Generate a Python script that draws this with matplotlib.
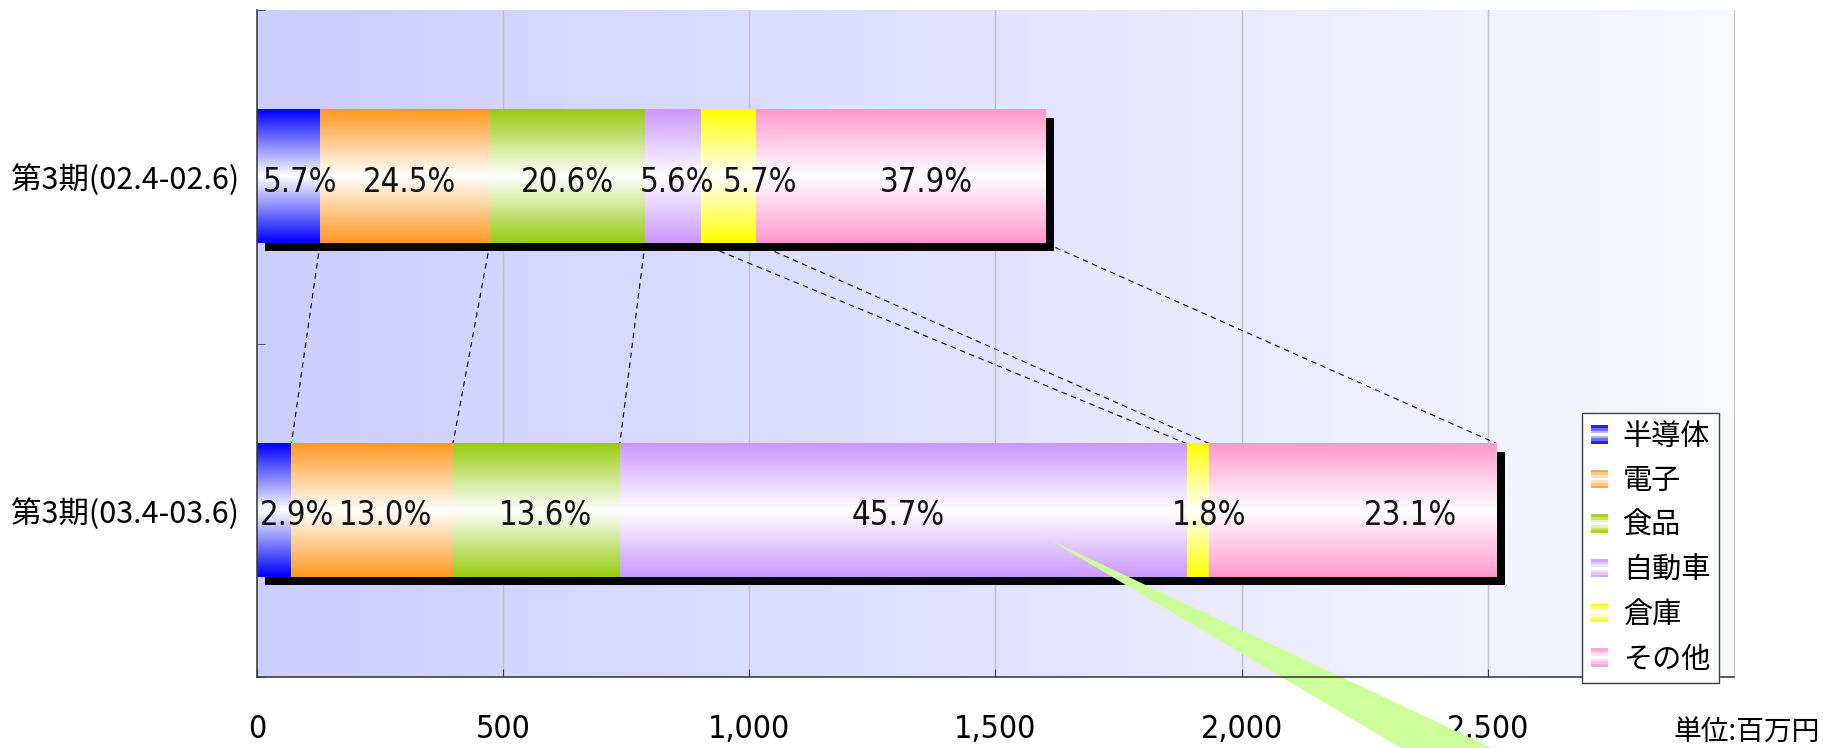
import matplotlib
matplotlib.use("Agg")
import matplotlib.pyplot as plt
import matplotlib.transforms as mtransforms
import numpy as np
from matplotlib import font_manager
from matplotlib.colors import to_rgb
from matplotlib.legend_handler import HandlerBase
from matplotlib.patches import Patch, Polygon, Rectangle

CJK = ["Noto Sans CJK JP", "DejaVu Sans"]

periods = ["第3期(02.4-02.6)", "第3期(03.4-03.6)"]
segments = ["半導体", "電子", "食品", "自動車", "倉庫", "その他"]
colors = ["#0000FF", "#FF9922", "#99CC11", "#CC99FF", "#FFFF00", "#FF99CC"]

# 百万円
values_0206 = [128, 345, 315, 114, 112, 589]
values_0306 = [70, 328, 339, 1151, 46, 584]
# printed shares (the original labels do not quite match the bar lengths)
shares_0206 = ["5.7%", "24.5%", "20.6%", "5.6%", "5.7%", "37.9%"]
shares_0306 = ["2.9%", "13.0%", "13.6%", "45.7%", "1.8%", "23.1%"]

x_ticks = [0, 500, 1000, 1500, 2000, 2500]
x_max = 3000
unit_label = "単位:百万円"

# label nudges in pixels, the original labels sit off-centre
nudge_0206 = [11, 5, 0, 4, 31, 25]
nudge_0306 = [23, 13, 9, -5, 11, 58]

BAR_H = 0.4
DPI = 100


def narrow_font():
    # the original uses a condensed face for the numbers
    names = {f.name for f in font_manager.fontManager.ttflist}
    if "Liberation Sans Narrow" in names:
        return {"family": "Liberation Sans Narrow"}
    path = font_manager.findfont(
        font_manager.FontProperties(family="DejaVu Sans", stretch="condensed"))
    if "Condensed" in path:
        return {"family": "DejaVu Sans", "fontstretch": "condensed"}
    return {"family": "Roboto"}


NARROW = narrow_font()


def bar_gradient(color, n=96):
    # colour at top and bottom edge, white in the middle
    t = np.linspace(0, 1, n)
    w = np.abs(t - 0.5) * 2
    rgb = np.array(to_rgb(color))
    img = 1 - w[:, None] * (1 - rgb[None, :])
    return img[:, None, :]


class GradientHandler(HandlerBase):
    def create_artists(self, legend, orig_handle, xdescent, ydescent,
                       width, height, fontsize, trans):
        rgb = np.array(to_rgb(orig_handle.get_facecolor()))
        n = 7
        artists = []
        for k in range(n):
            t = (k + 0.5) / n
            w = abs(t - 0.5) * 2
            c = 1 - w * (1 - rgb)
            r = Rectangle((-xdescent, -ydescent + height * k / n), width,
                          height / n, facecolor=c, edgecolor="none",
                          transform=trans)
            artists.append(r)
        return artists


fig = plt.figure(figsize=(1824 / DPI, 748 / DPI), dpi=DPI)
ax = fig.add_axes([257 / 1824, 71 / 748, 1477 / 1824, 667 / 748])

# background, light blue fading to the right
bg_left = np.array([205, 205, 255]) / 255
bg_right = np.array([249, 249, 255]) / 255
s = np.linspace(0, 1, 256)
bg = bg_left[None, :] * (1 - s[:, None]) + bg_right[None, :] * s[:, None]
ax.imshow(bg[None, :, :], extent=(0, 1, 0, 1), transform=ax.transAxes,
          aspect="auto", zorder=0)

for xv in x_ticks[1:]:
    ax.axvline(xv, color="#C0C0C0", lw=1, zorder=0.5)

shadow_trans = mtransforms.offset_copy(ax.transData, fig=fig, x=8, y=-8,
                                       units="dots")

rows = [(values_0206, shares_0206, nudge_0206),
        (values_0306, shares_0306, nudge_0306)]
cums = []
for yi, (vals, shares, nudges) in enumerate(rows):
    cum = np.cumsum(vals)
    cums.append(cum)
    lefts = cum - np.array(vals)
    ax.add_patch(Rectangle((0, yi - BAR_H / 2), cum[-1], BAR_H,
                           facecolor="black", edgecolor="none",
                           transform=shadow_trans, zorder=1.8))
    for left, right, c, lab, nd in zip(lefts, cum, colors, shares, nudges):
        ax.imshow(bar_gradient(c), extent=(left, right, yi + BAR_H / 2, yi - BAR_H / 2),
                  aspect="auto", interpolation="bilinear", zorder=2)
        ax.annotate(lab, ((left + right) / 2, yi), xytext=(nd * 0.72, -4),
                    textcoords="offset points", ha="center", va="center",
                    fontsize=23.5, color="#111111", zorder=3, **NARROW)

# series lines between the two bars
for x0, x1 in zip(cums[0], cums[1]):
    ax.plot([x0, x1], [BAR_H / 2, 1 - BAR_H / 2], color="black", lw=0.8,
            ls=(0, (5, 4)), zorder=1.5)

ax.set_xlim(0, x_max)
ax.set_ylim(1.5, -0.5)

ax.set_xticks(x_ticks, labels=[f"{v:,}" for v in x_ticks], fontsize=23,
              **NARROW)
ax.tick_params(axis="x", direction="in", length=6, color="#404040", pad=27)
ax.set_yticks([0, 1], labels=periods, fontsize=22, family=CJK)
ax.tick_params(axis="y", which="major", length=0, pad=13)
ax.set_yticks([-0.5, 0.5, 1.5], minor=True)
ax.tick_params(axis="y", which="minor", direction="in", length=6,
               color="#404040")

for side in ["left", "bottom"]:
    ax.spines[side].set_color("#404040")
    ax.spines[side].set_linewidth(1.2)
ax.spines["top"].set_visible(False)
ax.spines["right"].set_color("#C8C8C8")

# green callout wedge from a balloon outside the picture
wedge = Polygon([[1050 / 1824, 1 - 540 / 748], [1401 / 1824, 0], [1492 / 1824, 0]],
                closed=True, transform=fig.transFigure, facecolor="#CCFF99",
                edgecolor="none", clip_on=False, zorder=2.4)
ax.add_patch(wedge)

handles = [Patch(facecolor=c, label=n) for c, n in zip(colors, segments)]
leg = ax.legend(handles=handles, handler_map={Patch: GradientHandler()},
                loc="upper left", bbox_to_anchor=(1582 / 1824, 1 - 413 / 748),
                bbox_transform=fig.transFigure, borderaxespad=0,
                prop={"family": CJK, "size": 21}, handlelength=0.6,
                handleheight=0.6, handletextpad=0.5, labelspacing=0.5,
                borderpad=0.3, fancybox=False, framealpha=1)
leg.get_frame().set_edgecolor("#404040")
leg.get_frame().set_linewidth(1)

fig.text(1820 / 1824, 1 - 733 / 748, unit_label, ha="right", va="center",
         fontsize=20, family=CJK)

fig.savefig("out.png", dpi=DPI, facecolor="white")
